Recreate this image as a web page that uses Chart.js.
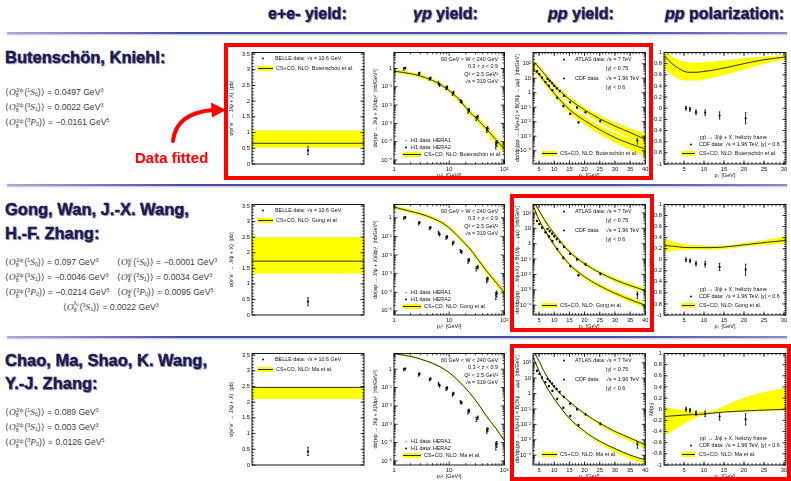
<!DOCTYPE html>
<html>
<head>
<meta charset="utf-8">
<title>J/ψ NRQCD LDME fits</title>
<script src="https://cdn.jsdelivr.net/npm/chart.js@4.4.1/dist/chart.umd.min.js"></script>
<style>
html,body{margin:0;padding:0;background:#fff}
body{width:791px;height:481px;position:relative;overflow:hidden;font-family:"Liberation Sans",Arial,sans-serif}
canvas{position:absolute}
.t{position:absolute;white-space:nowrap}
.head{font-weight:bold;font-size:16.5px;line-height:16.5px;color:#1b1b48;text-shadow:1px 1px 1px #8c8cc4,0 0 1px #b8b8e0;-webkit-text-stroke:0.35px #1b1b48}
.col{font-size:16px;line-height:16px}
.ldme{font-size:8.6px;line-height:11.3px;color:#3c3c3c}
.ldme i{font-family:"Liberation Serif",serif;font-size:1.08em}
.ss{display:inline-block;font-size:0.6em;line-height:0.95em;vertical-align:-0.55em;text-align:left;margin-right:1px}
.sup{font-size:0.62em;vertical-align:0.5em}
.sub{font-size:0.62em;vertical-align:-0.25em}
.box{position:absolute;border:4px solid #f00;box-sizing:border-box;z-index:3}
.rule{position:absolute;height:2px;background:linear-gradient(to right,#aaaadd,#4b4ba8 22%,#4b4ba8 78%,#8a8acc);box-shadow:0 1px 2px #bbbbcc}
.fit{font-weight:bold;font-size:15px;line-height:15px;color:#f00}
svg{position:absolute;left:0;top:0;z-index:4}
</style>
</head>
<body>

<div class="rule" style="left:7px;top:32px;width:780px"></div>
<div class="rule" style="left:7px;top:184px;width:780px"></div>
<div class="rule" style="left:7px;top:336px;width:780px"></div>

<div class="t head col" style="left:268px;top:6px">e+e- yield:</div>
<div class="t head col" style="left:413px;top:6px"><i>γp</i> yield:</div>
<div class="t head col" style="left:548px;top:6px"><i>pp</i> yield:</div>
<div class="t head col" style="left:665px;top:6px"><i>pp</i> polarization:</div>

<div class="t head" style="left:5px;top:49px">Butenschön, Kniehl:</div>
<div class="t ldme" style="left:5px;top:84.5px">
⟨<i>O</i><span class="ss">J/ψ<br>8</span>(<span class="sup">1</span><i>S</i><span class="sub">0</span>)⟩ = 0.0497 GeV<span class="sup">3</span><br>
⟨<i>O</i><span class="ss">J/ψ<br>8</span>(<span class="sup">3</span><i>S</i><span class="sub">1</span>)⟩ = 0.0022 GeV<span class="sup">3</span><br>
⟨<i>O</i><span class="ss">J/ψ<br>8</span>(<span class="sup">3</span><i>P</i><span class="sub">0</span>)⟩ = −0.0161 GeV<span class="sup">5</span>
</div>
<div class="t fit" style="left:135px;top:149.5px">Data fitted</div>

<div class="t head" style="left:5px;top:201px">Gong, Wan, J.-X. Wang,</div>
<div class="t head" style="left:5px;top:225px">H.-F. Zhang:</div>
<div class="t ldme" style="left:5px;top:254.5px">
⟨<i>O</i><span class="ss">J/ψ<br>8</span>(<span class="sup">1</span><i>S</i><span class="sub">0</span>)⟩ = 0.097 GeV<span class="sup">3</span><br>
⟨<i>O</i><span class="ss">J/ψ<br>8</span>(<span class="sup">3</span><i>S</i><span class="sub">1</span>)⟩ = −0.0046 GeV<span class="sup">3</span><br>
⟨<i>O</i><span class="ss">J/ψ<br>8</span>(<span class="sup">3</span><i>P</i><span class="sub">0</span>)⟩ = −0.0214 GeV<span class="sup">5</span>
</div>
<div class="t ldme" style="left:117px;top:254.5px">
⟨<i>O</i><span class="ss">ψ′<br>8</span>(<span class="sup">1</span><i>S</i><span class="sub">0</span>)⟩ = −0.0001 GeV<span class="sup">3</span><br>
⟨<i>O</i><span class="ss">ψ′<br>8</span>(<span class="sup">3</span><i>S</i><span class="sub">1</span>)⟩ = 0.0034 GeV<span class="sup">3</span><br>
⟨<i>O</i><span class="ss">ψ′<br>8</span>(<span class="sup">3</span><i>P</i><span class="sub">0</span>)⟩ = 0.0095 GeV<span class="sup">5</span>
</div>
<div class="t ldme" style="left:63px;top:299.5px">
⟨<i>O</i><span class="ss">χ<sub style="font-size:0.8em">0</sub><br>8</span>(<span class="sup">3</span><i>S</i><span class="sub">1</span>)⟩ = 0.0022 GeV<span class="sup">3</span>
</div>

<div class="t head" style="left:5px;top:352px">Chao, Ma, Shao, K. Wang,</div>
<div class="t head" style="left:5px;top:375px">Y.-J. Zhang:</div>
<div class="t ldme" style="left:5px;top:404.5px">
⟨<i>O</i><span class="ss">J/ψ<br>8</span>(<span class="sup">1</span><i>S</i><span class="sub">0</span>)⟩ = 0.089 GeV<span class="sup">3</span><br>
⟨<i>O</i><span class="ss">J/ψ<br>8</span>(<span class="sup">3</span><i>S</i><span class="sub">1</span>)⟩ = 0.003 GeV<span class="sup">3</span><br>
⟨<i>O</i><span class="ss">J/ψ<br>8</span>(<span class="sup">3</span><i>P</i><span class="sub">0</span>)⟩ = 0.0126 GeV<span class="sup">5</span>
</div>

<div class="box" style="left:224px;top:43px;width:429px;height:137px"></div>
<div class="box" style="left:510px;top:194px;width:144px;height:138px"></div>
<div class="box" style="left:510px;top:344px;width:281px;height:137px"></div>

<svg width="791" height="481">
  <path d="M173,141 C175,123 188,112 213,110" stroke="#f00" stroke-width="4" fill="none" stroke-linecap="round"/>
  <polygon points="226,110 211,102.5 212,117.5" fill="#f00"/>
</svg>

<script>
// ---------- e+e- -> J/psi + X (BELLE, sqrt(s) = 10.6 GeV) ----------
const BELLE_X = [1];
const BELLE_Y = [0.43];
const BELLE_ERR = [0.13];
const MODELS = ["Butenschön et al.", "Gong et al.", "Ma et al."];
const EE_CENTRAL = [0.66, 1.73, 2.47];
const EE_LOW = [0.53, 1.34, 2.11];
const EE_HIGH = [1.06, 2.49, 2.47];
const EE_YTICKS = [0, 0.5, 1, 1.5, 2, 2.5, 3, 3.5];
const EE_YLABELS = ["0", "0.5", "1", "1.5", "2", "2.5", "3", "3.5"];

// ---------- photoproduction (H1) ----------
const HERA1_X = [1.5, 2.8, 4.4, 6.4, 8.8, 11.5, 16, 22, 31, 48, 70];
const HERA1_Y = [0.95, 0.5, 0.27, 0.16, 0.085, 0.042, 0.017, 0.0048, 0.0019, 0.00045, 0.00007];
const HERA1_ERR = [0.15, 0.08, 0.04, 0.03, 0.015, 0.008, 0.003, 0.0012, 0.0005, 0.00013, 0.00003];
const HERA2_X = [1.6, 2.9, 4.6, 6.7, 9.2, 12, 16.8, 23, 33, 50, 73];
const HERA2_Y = [1.05, 0.56, 0.3, 0.13, 0.095, 0.048, 0.015, 0.0055, 0.0023, 0.00052, 0.000085];
const HERA2_ERR = [0.12, 0.07, 0.04, 0.025, 0.016, 0.008, 0.0025, 0.0011, 0.0005, 0.00013, 0.00003];
const GP_PT2 = [1, 2, 3, 5, 7, 10, 15, 23, 33, 46, 70, 100];
const GP_CENTRAL = [
  [0.72, 0.52, 0.39, 0.22, 0.13, 0.061, 0.021, 0.0045, 0.0016, 0.00055, 0.00013, 0.00004],
  [3.8, 2.2, 1.64, 0.95, 0.6, 0.29, 0.09, 0.024, 0.006, 0.0016, 0.00035, 0.0001],
  [7, 5, 3.6, 2.1, 1.3, 0.66, 0.22, 0.056, 0.014, 0.0032, 0.0006, 0.00013]
];
const GP_LOW = [
  [0.6, 0.43, 0.32, 0.18, 0.105, 0.049, 0.016, 0.0033, 0.0011, 0.00036, 0.00008, 0.000022],
  [3.2, 1.85, 1.38, 0.79, 0.5, 0.24, 0.074, 0.019, 0.0047, 0.00122, 0.00026, 0.00007],
  [6.6, 4.7, 3.4, 1.98, 1.22, 0.62, 0.205, 0.052, 0.013, 0.0029, 0.00054, 0.000115]
];
const GP_HIGH = [
  [0.85, 0.62, 0.47, 0.27, 0.16, 0.076, 0.027, 0.006, 0.0022, 0.0008, 0.0002, 0.000065],
  [4.4, 2.6, 1.95, 1.13, 0.72, 0.35, 0.11, 0.03, 0.0077, 0.0021, 0.00047, 0.00014],
  [7.3, 5.2, 3.75, 2.2, 1.36, 0.69, 0.23, 0.058, 0.0145, 0.0033, 0.00062, 0.000135]
];
const GP_YMAX = [7.5, 5.2, 7.2];
const GP_YMIN = 6e-6;
const GP_XTICKS = [1, 10, 100];
const GP_XLABELS = ["1", "10", "10²"];
const GP_YTICKS = [1e-5, 1e-4, 1e-3, 1e-2, 1e-1, 1];
const GP_YLABELS = ["10⁻⁵", "10⁻⁴", "10⁻³", "10⁻²", "10⁻¹", "1"];
const GP_CUTS = ["60 GeV < W < 240 GeV", "0.3 < z < 0.9", "Q² < 2.5 GeV²", "√s = 319 GeV"];

// ---------- hadroproduction yield (ATLAS 7 TeV, CDF 1.96 TeV) ----------
const ATLAS_X = [7.8, 8.5, 9.3, 10.0, 10.8, 11.8, 13.2, 15.2, 17.5, 20.3, 25.2, 37.4];
const ATLAS_Y = [9, 6.5, 4.5, 3.0, 2.0, 1.3, 0.62, 0.22, 0.095, 0.045, 0.011, 0.0005];
const ATLAS_ERR = [0.9, 0.6, 0.4, 0.3, 0.2, 0.12, 0.06, 0.02, 0.01, 0.005, 0.0015, 0.00022];
const CDF_X = [4.3, 5.1, 6.0, 7.1, 8.2, 9.4, 11.0, 13.0, 15.3, 18.0];
const CDF_Y = [30, 19, 11, 5.5, 3.0, 1.5, 0.45, 0.12, 0.035, 0.009];
const CDF_ERR = [3, 2, 1, 0.5, 0.3, 0.15, 0.05, 0.015, 0.004, 0.0012];
const PP_PT = [3, 5, 7, 10, 15, 20, 25, 30, 35, 40];
const PP_ATLAS_CENTRAL = [
  [150, 55, 17, 3.2, 0.35, 0.065, 0.016, 0.005, 0.0018, 0.0006],
  [700, 140, 30, 4.5, 0.3, 0.05, 0.013, 0.0045, 0.0019, 0.0009],
  [600, 130, 20, 2.5, 0.3, 0.05, 0.012, 0.0035, 0.0013, 0.00047]
];
const PP_ATLAS_LOW = [
  [110, 40, 12, 2.2, 0.22, 0.038, 0.0085, 0.0024, 0.00075, 0.00022],
  [560, 115, 24, 3.6, 0.24, 0.04, 0.0102, 0.0034, 0.0014, 0.00065],
  [580, 125, 19, 2.35, 0.26, 0.04, 0.0088, 0.0024, 0.00082, 0.00028]
];
const PP_ATLAS_HIGH = [
  [200, 75, 24, 4.5, 0.52, 0.1, 0.027, 0.0088, 0.0034, 0.0015],
  [860, 170, 37, 5.6, 0.38, 0.063, 0.0166, 0.0059, 0.0026, 0.00125],
  [620, 135, 21, 2.6, 0.31, 0.052, 0.0125, 0.0037, 0.0014, 0.0005]
];
const PP_CDF_CENTRAL = [
  [45, 18, 5.5, 0.9, 0.07, 0.012, 0.0028, 0.0008, 0.0003, 0.00013],
  [300, 35, 7, 0.8, 0.045, 0.007, 0.0018, 0.0006, 0.00023, 0.0001],
  [250, 28, 4, 0.45, 0.025, 0.0035, 0.0008, 0.00027, 0.0001, 0.00005]
];
const PP_CDF_LOW = [
  [32, 12.5, 3.7, 0.58, 0.042, 0.0066, 0.0014, 0.00037, 0.00012, 0.00004],
  [240, 28, 5.6, 0.63, 0.035, 0.0054, 0.00135, 0.00044, 0.00016, 0.00007],
  [240, 27, 3.8, 0.42, 0.021, 0.0027, 0.00056, 0.00017, 0.00006, 0.000028]
];
const PP_CDF_HIGH = [
  [62, 26, 8, 1.35, 0.11, 0.021, 0.0052, 0.0016, 0.00065, 0.00033],
  [370, 43, 8.7, 1.0, 0.057, 0.009, 0.0024, 0.0008, 0.00032, 0.00014],
  [260, 29, 4.2, 0.47, 0.026, 0.0036, 0.00083, 0.00028, 0.000105, 0.000052]
];
const PP_YMIN = [1.2e-5, 2.3e-5, 2.3e-5];
const PP_YMAX = [600, 355, 400];
const PP_XTICKS = [5, 10, 15, 20, 25, 30, 35, 40];
const PP_XLABELS = ["5", "10", "15", "20", "25", "30", "35", "40"];
const PP_YTICKS = [1e-4, 1e-3, 1e-2, 1e-1, 1, 10, 100];
const PP_YLABELS = ["10⁻⁴", "10⁻³", "10⁻²", "10⁻¹", "1", "10", "10²"];

// ---------- polarization lambda_theta (CDF, helicity frame) ----------
const POL_X = [5.5, 6.5, 8.0, 10.3, 13.9, 20.4];
const POL_Y = [0.0, -0.02, -0.07, -0.08, -0.13, -0.18];
const POL_ERR = [0.035, 0.035, 0.04, 0.05, 0.065, 0.1];
const POL_PT = [0.25, 2, 4, 6, 8, 10, 12, 15, 20, 25, 30.5];
const POL_CENTRAL = [
  [0.93, 0.8, 0.7, 0.645, 0.645, 0.66, 0.68, 0.72, 0.8, 0.87, 0.92],
  [0.26, 0.245, 0.23, 0.22, 0.22, 0.22, 0.22, 0.23, 0.27, 0.31, 0.35],
  [-0.13, -0.12, -0.11, -0.1, -0.095, -0.085, -0.07, -0.05, -0.03, -0.015, 0.0]
];
const POL_LOW = [
  [0.72, 0.6, 0.52, 0.5, 0.5, 0.52, 0.55, 0.6, 0.7, 0.8, 0.88],
  [0.14, 0.16, 0.18, 0.18, 0.19, 0.19, 0.19, 0.2, 0.24, 0.27, 0.3],
  [-0.46, -0.4, -0.3, -0.22, -0.15, -0.1, -0.07, -0.06, -0.04, -0.03, -0.02]
];
const POL_HIGH = [
  [1.05, 0.92, 0.85, 0.82, 0.81, 0.82, 0.83, 0.85, 0.89, 0.92, 0.95],
  [0.38, 0.33, 0.29, 0.27, 0.26, 0.25, 0.25, 0.25, 0.3, 0.35, 0.42],
  [0.03, 0.01, -0.01, -0.03, -0.04, -0.05, -0.04, 0.05, 0.2, 0.3, 0.38]
];
const POL_XTICKS = [5, 10, 15, 20, 25, 30];
const POL_XLABELS = ["5", "10", "15", "20", "25", "30"];
const POL_YTICKS = [-1, -0.8, -0.6, -0.4, -0.2, 0, 0.2, 0.4, 0.6, 0.8, 1];
const POL_YLABELS = ["-1", "-0.8", "-0.6", "-0.4", "-0.2", "0", "0.2", "0.4", "0.6", "0.8", "1"];

// ---------- panel geometry ----------
const ROW_T = [51, 203, 352];
const ROW_B = [164, 315, 465];
const COL_L = [252, 394, 533, 664];
const COL_R = [364, 506, 646, 786];
const COL_YW = [24, 22, 19, 16];
const PAD_T = 4, PAD_R = 4, XH = 15;
const FONT = "'Liberation Sans', Arial, sans-serif";
const YELLOW = '#ffff00';

Chart.defaults.font.family = FONT;
Chart.defaults.font.size = 5.8;
Chart.defaults.color = '#111';
Chart.defaults.animation = false;

// vertical error bars on datasets that carry an `errors` array
const errorBars = {
  id: 'errorBars',
  afterDatasetsDraw(chart) {
    const ctx = chart.ctx, ys = chart.scales.y;
    chart.data.datasets.forEach((ds, i) => {
      if (!ds.errors) return;
      const meta = chart.getDatasetMeta(i);
      ctx.save();
      ctx.strokeStyle = '#000';
      ctx.lineWidth = 0.8;
      ctx.beginPath();
      meta.data.forEach((pt, j) => {
        const v = ds.data[j].y, e = ds.errors[j];
        const lo = ys.type === 'logarithmic' ? Math.max(v - e, v * 0.05) : v - e;
        const y1 = ys.getPixelForValue(v + e), y2 = ys.getPixelForValue(lo);
        ctx.moveTo(pt.x, y1); ctx.lineTo(pt.x, y2);
        ctx.moveTo(pt.x - 0.8, y1); ctx.lineTo(pt.x + 0.8, y1);
        ctx.moveTo(pt.x - 0.8, y2); ctx.lineTo(pt.x + 0.8, y2);
      });
      ctx.stroke();
      ctx.restore();
    });
  }
};

// closed frame with inward major/minor tick marks on all four sides
const framePlugin = {
  id: 'frame',
  afterDatasetsDraw(chart) {
    const { ctx, chartArea: a } = chart;
    ctx.save();
    ctx.strokeStyle = '#000';
    ctx.lineWidth = 0.8;
    ctx.beginPath();
    ['x', 'y'].forEach(id => {
      const s = chart.scales[id];
      if (s.options.ticks.display === false) return;
      const majors = s.ticks.map(t => t.value);
      const minors = [];
      if (s.type === 'logarithmic') {
        for (let e = Math.floor(Math.log10(s.min)); e <= Math.ceil(Math.log10(s.max)); e++) {
          for (let k = 2; k <= 9; k++) {
            const v = k * Math.pow(10, e);
            if (v > s.min && v < s.max) minors.push(v);
          }
        }
      } else if (majors.length > 1) {
        const st = (majors[1] - majors[0]) / 5;
        for (let k = -5; k <= 5 * majors.length + 5; k++) {
          const v = majors[0] + k * st;
          if (v > s.min && v < s.max) minors.push(v);
        }
      }
      const mark = (v, len) => {
        const p = s.getPixelForValue(v);
        if (id === 'x') {
          ctx.moveTo(p, a.bottom); ctx.lineTo(p, a.bottom - len);
          ctx.moveTo(p, a.top); ctx.lineTo(p, a.top + len);
        } else {
          ctx.moveTo(a.left, p); ctx.lineTo(a.left + len, p);
          ctx.moveTo(a.right, p); ctx.lineTo(a.right - len, p);
        }
      };
      majors.forEach(v => mark(v, 3.5));
      minors.forEach(v => mark(v, 1.8));
    });
    ctx.stroke();
    ctx.lineWidth = 0.9;
    ctx.strokeRect(a.left, a.top, a.right - a.left, a.bottom - a.top);
    ctx.restore();
  }
};

// in-panel legend and annotation text
function legendPlugin(items) {
  return {
    id: 'panelLegend',
    afterDraw(chart) {
      const { ctx, chartArea: a } = chart;
      ctx.save();
      ctx.font = '5.4px ' + FONT;
      ctx.textBaseline = 'middle';
      items.forEach(it => {
        const x = a.left + it.dx, y = a.top + it.dy;
        if (it.mark === 'dot') {
          ctx.fillStyle = '#000';
          ctx.beginPath(); ctx.arc(x, y, 0.9, 0, 2 * Math.PI); ctx.fill();
        } else if (it.mark === 'open') {
          ctx.fillStyle = '#555';
          ctx.fillRect(x - 1, y - 0.3, 2, 0.6);
        } else if (it.mark === 'band') {
          ctx.fillStyle = YELLOW;
          ctx.fillRect(x, y - 2.6, it.w, 5.2);
          ctx.fillStyle = '#222';
          ctx.fillRect(x, y - 0.5, it.w, 1);
        } else {
          ctx.fillStyle = '#111';
          ctx.textAlign = it.align || 'left';
          ctx.fillText(it.text, x, y);
        }
      });
      ctx.restore();
    }
  };
}

function scaleOpts(axis, type, min, max, ticks, labels, title, yw, show) {
  return {
    type, min, max,
    grid: { display: false, drawTicks: false },
    border: { display: false },
    ticks: {
      display: show !== false, autoSkip: false, maxRotation: 0, minRotation: 0,
      padding: axis === 'x' ? 1.5 : 2,
      callback: v => {
        const i = ticks.findIndex(t => Math.abs(t - v) <= Math.abs(t) * 1e-6 + 1e-9);
        return i < 0 ? '' : labels[i];
      }
    },
    afterBuildTicks: s => { s.ticks = ticks.map(v => ({ value: v })); },
    afterFit: s => { if (axis === 'x') s.height = XH; else s.width = yw; },
    title: title ? { display: true, text: title, font: { size: 5.4 }, padding: 0 } : { display: false }
  };
}

function points(xs, ys, errs, style) {
  return {
    data: xs.map((x, i) => ({ x, y: ys[i] })),
    errors: errs, showLine: false,
    pointRadius: style === 'open' ? 1.0 : 1.1,
    pointStyle: style === 'open' ? 'rect' : 'circle',
    pointBackgroundColor: style === 'open' ? '#666' : '#000',
    pointBorderWidth: 0, borderColor: '#000'
  };
}

// central line first so it is drawn above its own yellow band
function band(xs, lo, hi, mid) {
  const mk = arr => xs.map((x, i) => ({ x, y: arr[i] }));
  const common = { pointRadius: 0, cubicInterpolationMode: 'monotone' };
  return [
    { ...common, data: mk(mid), fill: false, borderColor: '#1a1a1a', borderWidth: 0.9 },
    { ...common, data: mk(hi), fill: '+1', backgroundColor: YELLOW, borderColor: '#e8e800', borderWidth: 0.5 },
    { ...common, data: mk(lo), fill: false, borderColor: '#e8e800', borderWidth: 0.5 }
  ];
}

function panel(row, col, xScale, yScale, datasets, items) {
  const l = COL_L[col], r = COL_R[col], t = ROW_T[row], b = ROW_B[row], yw = COL_YW[col];
  const c = document.createElement('canvas');
  const w = r - l + yw + PAD_R, h = b - t + PAD_T + XH;
  c.width = w; c.height = h;
  c.style.left = (l - yw) + 'px'; c.style.top = (t - PAD_T) + 'px';
  c.style.width = w + 'px'; c.style.height = h + 'px';
  document.body.appendChild(c);
  new Chart(c, {
    type: 'line',
    data: { datasets },
    options: {
      responsive: false, animation: false, devicePixelRatio: 1,
      layout: { padding: { top: PAD_T, right: PAD_R, left: 0, bottom: 0 } },
      plugins: { legend: { display: false }, tooltip: { enabled: false } },
      scales: { x: xScale, y: yScale }
    },
    plugins: [errorBars, framePlugin, legendPlugin(items)]
  });
}

for (let row = 0; row < 3; row++) {
  const model = 'CS+CO, NLO: ' + MODELS[row];

  // e+e- yield
  panel(row, 0,
    scaleOpts('x', 'linear', 0, 2, [0, 2], ['', ''], null, 0, false),
    scaleOpts('y', 'linear', 0, 3.55, EE_YTICKS, EE_YLABELS, 'σ(e⁺e⁻ → J/ψ + X)  [pb]', COL_YW[0]),
    [points(BELLE_X, BELLE_Y, BELLE_ERR),
     ...band([0, 2], [EE_LOW[row], EE_LOW[row]], [EE_HIGH[row], EE_HIGH[row]], [EE_CENTRAL[row], EE_CENTRAL[row]])],
    [{ mark: 'dot', dx: 11, dy: 6 }, { text: 'BELLE data: √s = 10.6 GeV', dx: 23, dy: 6 },
     { mark: 'band', dx: 6, dy: 16, w: 15 }, { text: model, dx: 24, dy: 16 }]);

  // photoproduction yield
  const gpW = COL_R[1] - COL_L[1];
  panel(row, 1,
    scaleOpts('x', 'logarithmic', 1, 100, GP_XTICKS, GP_XLABELS, 'pₜ²  [GeV²]', 0),
    scaleOpts('y', 'logarithmic', GP_YMIN, GP_YMAX[row], GP_YTICKS, GP_YLABELS, 'dσ(ep → J/ψ + X)/dpₜ²  [nb/GeV²]', COL_YW[1]),
    [points(HERA1_X, HERA1_Y, HERA1_ERR, 'open'), points(HERA2_X, HERA2_Y, HERA2_ERR),
     ...band(GP_PT2, GP_LOW[row], GP_HIGH[row], GP_CENTRAL[row])],
    [...GP_CUTS.map((s, i) => ({ text: s, dx: gpW - 8, dy: 7 + i * 7.3, align: 'right' })),
     { mark: 'open', dx: 12, dy: 88 }, { text: 'H1 data: HERA1', dx: 17, dy: 88 },
     { mark: 'dot', dx: 12, dy: 95 }, { text: 'H1 data: HERA2', dx: 17, dy: 95 },
     { mark: 'band', dx: 9, dy: 102, w: 18 }, { text: model, dx: 30, dy: 102 }]);

  // hadroproduction yield
  panel(row, 2,
    scaleOpts('x', 'linear', 3, 40, PP_XTICKS, PP_XLABELS, 'pₜ  [GeV]', 0),
    scaleOpts('y', 'logarithmic', PP_YMIN[row], PP_YMAX[row], PP_YTICKS, PP_YLABELS, 'dσ/dpₜ(pp → J/ψ+X) × B(J/ψ → μμ)  [nb/GeV]', COL_YW[2]),
    [points(ATLAS_X, ATLAS_Y, ATLAS_ERR), points(CDF_X, CDF_Y, CDF_ERR),
     ...band(PP_PT, PP_ATLAS_LOW[row], PP_ATLAS_HIGH[row], PP_ATLAS_CENTRAL[row]),
     ...band(PP_PT, PP_CDF_LOW[row], PP_CDF_HIGH[row], PP_CDF_CENTRAL[row])],
    [{ mark: 'dot', dx: 31, dy: 7 }, { text: 'ATLAS data:', dx: 42, dy: 7 }, { text: '√s = 7 TeV', dx: 73, dy: 7 },
     { text: '|y| < 0.75', dx: 73, dy: 16 },
     { mark: 'dot', dx: 31, dy: 26 }, { text: 'CDF data:', dx: 42, dy: 26 }, { text: '√s = 1.96 TeV', dx: 73, dy: 26 },
     { text: '|y| < 0.6', dx: 73, dy: 35 },
     { mark: 'band', dx: 9, dy: 101, w: 15 }, { text: model, dx: 27, dy: 101 }]);

  // polarization
  panel(row, 3,
    scaleOpts('x', 'linear', 0, 30.5, POL_XTICKS, POL_XLABELS, 'pₜ  [GeV]', 0),
    scaleOpts('y', 'linear', -1, 1, POL_YTICKS, POL_YLABELS, 'λθ(pₜ)', COL_YW[3]),
    [points(POL_X, POL_Y, POL_ERR),
     ...band(POL_PT, POL_LOW[row], POL_HIGH[row], POL_CENTRAL[row])],
    [{ text: 'pp̄ → J/ψ + X, helicity frame', dx: 36, dy: 85 },
     { mark: 'dot', dx: 27, dy: 92 }, { text: 'CDF data: √s = 1.96 TeV, |y| < 0.6', dx: 35, dy: 92 },
     { mark: 'band', dx: 18, dy: 101, w: 13 }, { text: model, dx: 35, dy: 101 }]);
}
</script>
</body>
</html>
